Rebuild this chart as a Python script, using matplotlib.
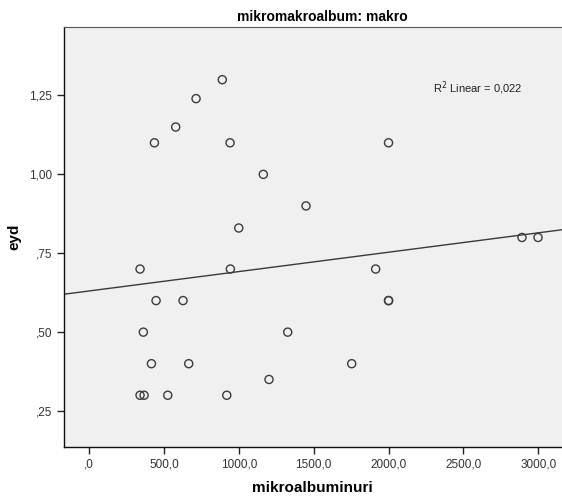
import numpy as np
import matplotlib
matplotlib.use("Agg")
import matplotlib.pyplot as plt

plt.rcParams['font.family'] = ['Liberation Sans', 'DejaVu Sans']

# mikroalbuminuri vs eyd
mikro = [890, 715, 579, 437, 942, 2000, 1164, 1449, 1000,
         341, 944, 1914, 448, 628, 2000, 2000, 363, 1327,
         417, 666, 1754, 1202, 341, 368, 526, 920, 2891, 2998]
eyd = [1.30, 1.24, 1.15, 1.10, 1.10, 1.10, 1.00, 0.90, 0.83,
       0.70, 0.70, 0.70, 0.60, 0.60, 0.60, 0.60, 0.50, 0.50,
       0.40, 0.40, 0.40, 0.35, 0.30, 0.30, 0.30, 0.30, 0.80, 0.80]

xticks = [0, 500, 1000, 1500, 2000, 2500, 3000]
xlabels = [',0', '500,0', '1000,0', '1500,0', '2000,0', '2500,0', '3000,0']
yticks = [0.25, 0.50, 0.75, 1.00, 1.25]
ylabels = [',25', ',50', ',75', '1,00', '1,25']

fig = plt.figure(figsize=(5.62, 4.98), dpi=100)
ax = fig.add_axes([0.113, 0.1024, 0.887, 0.8434])
ax.set_facecolor('#f0f0f0')

xlim = (-170, 3158)
ax.set_xlim(xlim)
ax.set_ylim(0.136, 1.467)

# linear fit
k, m = np.polyfit(mikro, eyd, 1)
xx = np.array(xlim)
ax.plot(xx, k * xx + m, color='#3a3a3a', lw=1.0, zorder=2)

ax.scatter(mikro, eyd, s=34, facecolors='none', edgecolors='#3c3c3c',
           linewidths=1.0, zorder=3)

ax.set_xticks(xticks)
ax.set_xticklabels(xlabels)
ax.set_yticks(yticks)
ax.set_yticklabels(ylabels)
ax.tick_params(direction='out', length=5, width=1, color='#222222',
               labelsize=8.5, labelcolor='#333333', pad=3)

for s in ['left', 'bottom']:
    ax.spines[s].set_color('#111111')
    ax.spines[s].set_linewidth(1.0)
ax.spines['top'].set_color('#555555')
ax.spines['top'].set_linewidth(0.8)
ax.spines['right'].set_visible(False)

ax.set_title('mikromakroalbum: makro', fontsize=10, fontweight='bold',
             pad=4, x=0.5186)
ax.set_xlabel('mikroalbuminuri', fontsize=11, fontweight='bold', labelpad=8)
ax.set_ylabel('eyd', fontsize=11, fontweight='bold', labelpad=5.5)

ax.text(0.741, 0.855, 'R$^2$ Linear = 0,022', transform=ax.transAxes,
        fontsize=8, color='#222222', va='center', ha='left')

fig.savefig('out.png', dpi=100)
